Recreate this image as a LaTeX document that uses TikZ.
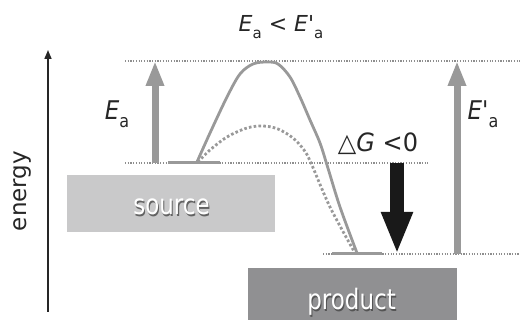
\documentclass[tikz,border=0pt]{standalone}
\usepackage{fontspec}
\setmainfont{DejaVu Sans}
\usetikzlibrary{arrows.meta}
\definecolor{boxlight}{HTML}{C9C9CA}
\definecolor{boxdark}{HTML}{909092}
\definecolor{lvlgray}{HTML}{999999}
\definecolor{dotgray}{HTML}{8E8E8E}
\newcommand\fsz[1]{\fontsize{#1}{#1}\selectfont}
\newcommand\Esym[3]{{\itshape E#3}\raisebox{-0.3em}{\fsz{#2}a}}
\tikzset{
  dotline/.style={dotgray, line width=1.2pt, dash pattern=on 1.2pt off 1.5pt},
  lvl/.style={lvlgray, line width=3pt},
  garrow/.style={lvlgray, line width=7pt, -{Triangle[width=17pt,length=25pt]}},
  barrow/.style={black!90, line width=14pt, -{Triangle[width=29pt,length=42pt]}},
  curvesolid/.style={lvlgray, line width=2.8pt, line cap=round},
  curvedot/.style={lvlgray, line width=2.8pt, dash pattern=on 2.6pt off 2.2pt},
  lab/.style={inner sep=0pt, anchor=base, text=black!85},
  boxtext/.style={inner sep=0pt, anchor=base, text=white},
  boxshadow/.style={inner sep=0pt, anchor=base, text=black!75, opacity=0.75},
}
\begin{document}
\begin{tikzpicture}[x=1pt,y=-1pt]
\useasboundingbox (0,0) rectangle (520,320);
% boxes
\node[fill=boxlight, inner sep=0pt, minimum width=208pt, minimum height=57pt] (source) at (171,203.5) {};
\node[fill=boxdark, inner sep=0pt, minimum width=209pt, minimum height=52pt] (product) at (352.5,294) {};
\node[boxshadow] (srcsh) at (172.6,216.2) {\fsz{23}\scalebox{1}[1.22]{source}};
\node[boxtext] (srctxt) at (171.5,215) {\fsz{23}\scalebox{1}[1.22]{source}};
\node[boxshadow] (prdsh) at (352.6,311.2) {\fsz{23}\scalebox{1}[1.22]{product}};
\node[boxtext] (prdtxt) at (351.5,310) {\fsz{23}\scalebox{1}[1.22]{product}};
% coordinates
\coordinate (topL) at (125,61);  \coordinate (topR) at (520,61);
\coordinate (midL) at (125,163); \coordinate (midR) at (428,163);
\coordinate (botL) at (323,254); \coordinate (botR) at (520,254);
\coordinate (srcL) at (168,163); \coordinate (srcR) at (220,163);
\coordinate (prdL) at (332,254); \coordinate (prdR) at (382,254);
\coordinate (ea0) at (155,163); \coordinate (ea1) at (155,61);
\coordinate (eb0) at (457,254); \coordinate (eb1) at (457,61);
\coordinate (dg0) at (397,163); \coordinate (dg1) at (397,254);
\coordinate (ax0) at (48,312); \coordinate (ax1) at (48,50);
% dotted levels
\draw[dotline] (topL) -- (topR);
\draw[dotline] (midL) -- (midR);
\draw[dotline] (botL) -- (botR);
% level bars
\draw[lvl] (srcL) -- (srcR);
\draw[lvl] (prdL) -- (prdR);
% curves
\draw[curvesolid] plot[smooth, tension=0.55] coordinates {(197,162) (210,133) (227,97) (240,74) (253,64) (267,62) (278,64) (290,77) (300,97) (310,120) (320,143) (327,165) (340,207) (357,253)};
\draw[curvedot] plot[smooth, tension=0.55] coordinates {(198,162) (210,150) (227,137) (247,128) (263,126) (278,129) (293,138) (304,150) (311,163) (330,207) (355,253)};
% arrows
\draw[garrow] (ea0) -- (ea1);
\draw[garrow] (eb0) -- (eb1);
\draw[barrow] (dg0) -- (dg1);
\draw[black!85, line width=1.6pt, -{Triangle[width=7pt,length=9pt]}] (ax0) -- (ax1);
% labels
\node[lab] (title) at (281,32) {\fsz{22}\scalebox{1}[1.0]{\Esym{22}{15}{} < \Esym{22}{15}{\textquotesingle}}};
\node[lab] (ealab) at (117,120) {\fsz{23}\scalebox{1}[1.12]{\Esym{23}{16}{}}};
\node[lab] (eblab) at (483,120) {\fsz{23}\scalebox{1}[1.12]{\Esym{23}{16}{\textquotesingle}}};
\node[lab] (dglab) at (378,152) {\fsz{24}\scalebox{1}[1.05]{△\textit{G} <0}};
\node[rotate=90, anchor=base, inner sep=0pt, text=black!85] (energy) at (27,191) {\fsz{23}energy};
\end{tikzpicture}
\end{document}
